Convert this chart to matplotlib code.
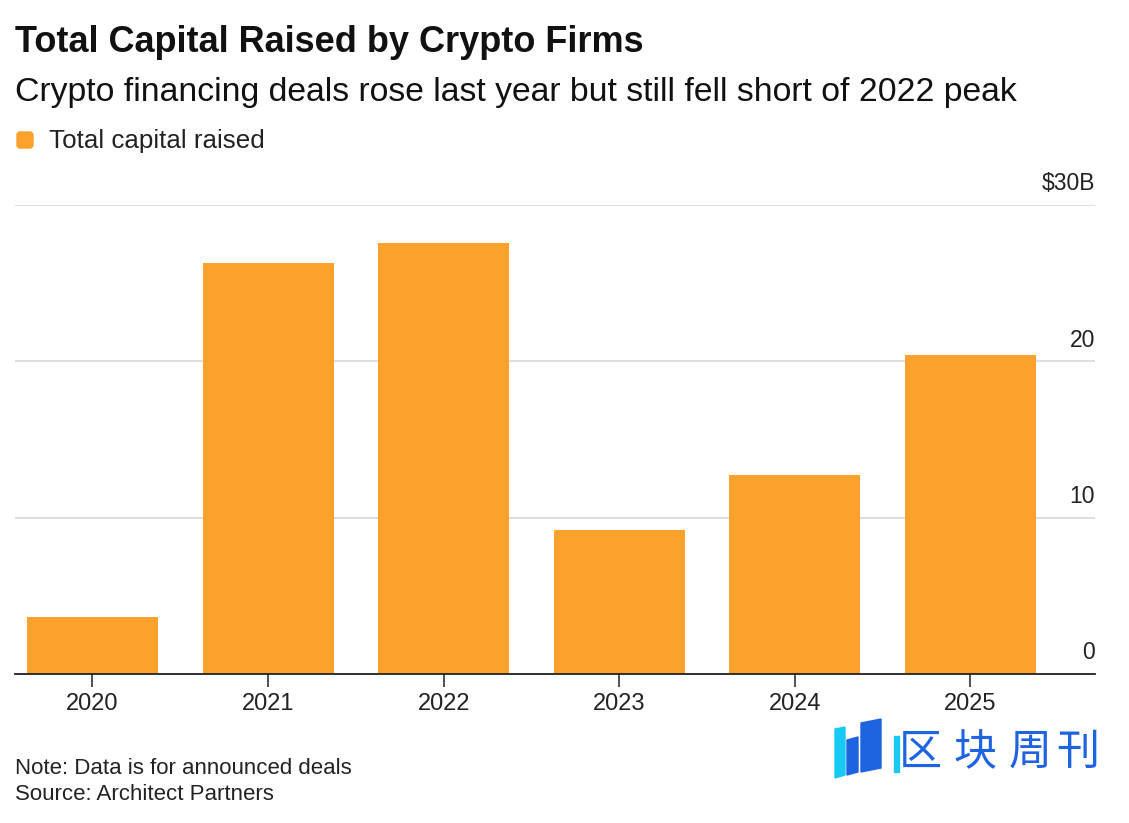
import matplotlib
matplotlib.use("Agg")
import matplotlib.pyplot as plt
from matplotlib.patches import Polygon, FancyBboxPatch

years = ["2020", "2021", "2022", "2023", "2024", "2025"]
capital = [3.65, 26.3, 27.6, 9.2, 12.7, 20.4]
yticks = [0, 10, 20, 30]
ytick_labels = ["0", "10", "20", "$30B"]

W, H = 1129, 823
fig = plt.figure(figsize=(W / 100, H / 100), dpi=100)
plt.rcParams['font.family'] = ['Liberation Sans', 'DejaVu Sans']

ax = fig.add_axes([15 / W, (H - 674) / H, (1095 - 15) / W, (674 - 205) / H])
orange = "#FCA12B"
x = list(range(len(years)))
ax.bar(x, capital, width=0.746, color=orange, zorder=2)
ax.set_xlim(-0.441, 5.709)
ax.set_ylim(0, 30)

for s in ["top", "right", "left"]:
    ax.spines[s].set_visible(False)
ax.spines["bottom"].set_color("#222222")
ax.spines["bottom"].set_linewidth(1.3)
ax.spines["bottom"].set_zorder(3)

ax.set_yticks(yticks)
ax.set_yticklabels([])
ax.tick_params(axis="y", length=0)
ax.grid(axis="y", color="#d4d4d4", linewidth=1.1, zorder=1)
for v, lab in zip(yticks, ytick_labels):
    ax.annotate(lab, xy=(1.0, v), xycoords=("axes fraction", "data"),
                xytext=(0, 7), textcoords="offset points",
                ha="right", va="bottom", fontsize=16.5, color="#222222")

ax.set_xticks(x)
ax.set_xticklabels(years, fontsize=17, color="#222222")
ax.tick_params(axis="x", length=9, width=1.2, color="#333333", direction="out", pad=5)

fig.text(15 / W, 1 - 43 / H, "Total Capital Raised by Crypto Firms",
         fontsize=26, fontweight="bold", ha="left", va="center", color="#111111")
fig.text(15 / W, 1 - 93 / H, "Crypto financing deals rose last year but still fell short of 2022 peak",
         fontsize=24.3, ha="left", va="center", color="#111111")

ax_o = fig.add_axes([0, 0, 1, 1], facecolor="none")
ax_o.set_xlim(0, W)
ax_o.set_ylim(H, 0)
ax_o.axis("off")
ax_o.add_patch(FancyBboxPatch((17, 132), 16, 16, boxstyle="round,pad=0,rounding_size=3",
                              color=orange))
fig.text(49 / W, 1 - 141 / H, "Total capital raised", fontsize=18.7,
         ha="left", va="center", color="#222222")

fig.text(15 / W, 1 - 768 / H, "Note: Data is for announced deals", fontsize=16,
         ha="left", va="center", color="#222222")
fig.text(15 / W, 1 - 794 / H, "Source: Architect Partners", fontsize=16,
         ha="left", va="center", color="#222222")

# watermark
ax_o.add_patch(Polygon([(835, 729), (845, 727), (845, 775), (835, 778)], color="#18C8F5"))
ax_o.add_patch(Polygon([(847, 740), (858, 737), (858, 772), (847, 775)], color="#1E63E0"))
ax_o.add_patch(Polygon([(861, 723), (881, 719), (881, 768), (861, 772)], color="#1E63E0"))
for ch, cx in zip("区块周刊", [920, 975, 1030, 1078]):
    fig.text(cx / W, 1 - 753 / H, ch, fontsize=31, family=["Noto Sans CJK SC"],
             ha="center", va="center", color="#1E63E0")
ax_o.add_patch(Polygon([(894, 736), (899, 736), (899, 772), (894, 772)], color="#18C8F5"))

fig.savefig("out.png", dpi=100, facecolor="white")
